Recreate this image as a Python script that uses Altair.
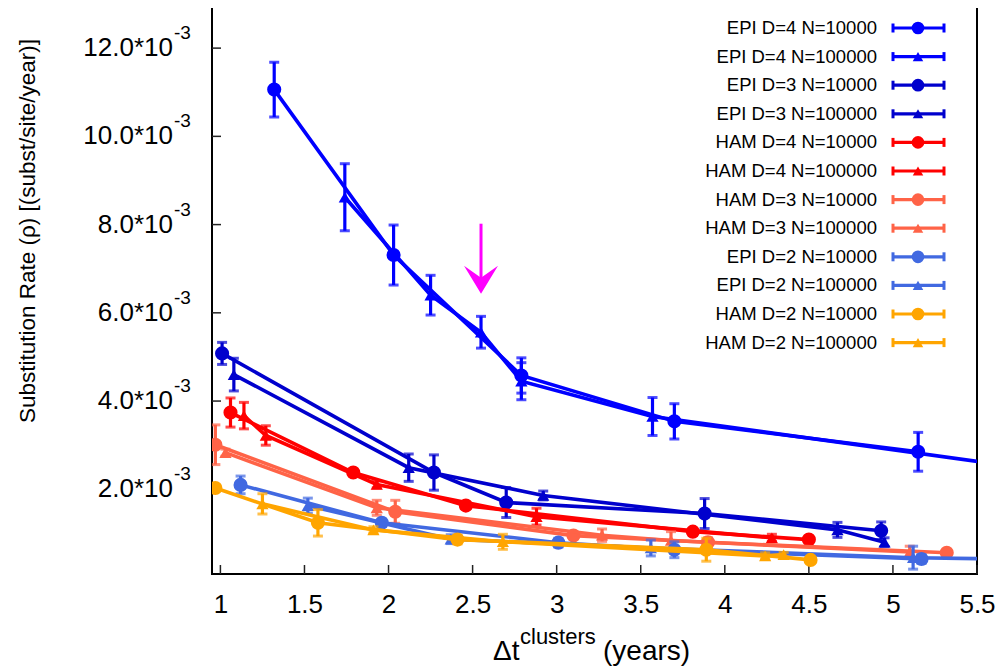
import altair as alt
import pandas as pd

# ---------------- data (rates in units of 1e-3 subst/site/year) ----------------
series_names = [
    "EPI D=4 N=10000", "EPI D=4 N=100000", "EPI D=3 N=10000", "EPI D=3 N=100000",
    "HAM D=4 N=10000", "HAM D=4 N=100000", "HAM D=3 N=10000", "HAM D=3 N=100000",
    "EPI D=2 N=10000", "EPI D=2 N=100000", "HAM D=2 N=10000", "HAM D=2 N=100000",
]
series_colors = [
    "#0000ff", "#0000ff", "#0000cd", "#0000cd",
    "#ff0000", "#ff0000", "#ff6347", "#ff6347",
    "#4169e1", "#4169e1", "#ffa500", "#ffa500",
]
series_shapes = ["circle", "triangle-up"] * 6

dt_values = [
    [1.32, 2.03, 2.79, 3.70, 5.15],
    [1.74, 2.25, 2.55, 2.79, 3.57, 6.00],
    [1.01, 2.27, 2.70, 3.88, 4.93],
    [1.08, 2.12, 2.92, 4.67, 4.95],
    [1.06, 1.79, 2.46, 3.81, 4.50],
    [1.14, 1.27, 1.93, 2.88, 4.28],
    [0.97, 2.04, 3.10, 3.90, 5.32],
    [1.03, 1.93, 3.27, 3.68, 5.10],
    [1.12, 1.96, 3.01, 3.70, 5.17],
    [1.52, 2.37, 3.56, 5.12, 6.00],
    [0.97, 1.58, 2.41, 3.89, 4.51],
    [1.25, 1.91, 2.68, 4.24, 4.35],
]
rate_values = [
    [11.06, 7.31, 4.58, 3.54, 2.85],
    [8.62, 6.40, 5.56, 4.45, 3.65, 2.37],
    [5.08, 2.38, 1.70, 1.45, 1.06],
    [4.60, 2.49, 1.86, 1.08, 0.80],
    [3.74, 2.38, 1.63, 1.04, 0.86],
    [3.67, 3.22, 2.11, 1.38, 0.90],
    [3.01, 1.49, 0.95, 0.80, 0.56],
    [2.83, 1.58, 0.96, 0.84, 0.58],
    [2.10, 1.24, 0.79, 0.63, 0.42],
    [1.63, 0.87, 0.67, 0.45, 0.40],
    [2.03, 1.24, 0.86, 0.63, 0.40],
    [1.67, 1.08, 0.81, 0.49, 0.52],
]
err_values = [
    [0.62, 0.68, 0.40, 0.40, 0.44],
    [0.76, 0.45, 0.36, 0.42, 0.43, 0.30],
    [0.25, 0.40, 0.34, 0.34, 0.20],
    [0.37, 0.31, 0.10, 0.17, 0.10],
    [0.33, 0.07, 0.07, 0.07, 0.07],
    [0.30, 0.22, 0.08, 0.19, 0.08],
    [0.45, 0.26, 0.05, 0.10, 0.05],
    [0.08, 0.17, 0.14, 0.20, 0.13],
    [0.20, 0.08, 0.10, 0.18, 0.10],
    [0.17, 0.10, 0.18, 0.26, 0.10],
    [0.05, 0.30, 0.10, 0.26, 0.05],
    [0.23, 0.07, 0.17, 0.07, 0.05],
]

x_tick_values = [1, 1.5, 2, 2.5, 3, 3.5, 4, 4.5, 5, 5.5]
y_tick_values = [2, 4, 6, 8, 10, 12]
y_tick_labels = ["2.0*10", "4.0*10", "6.0*10", "8.0*10", "10.0*10", "12.0*10"]
y_tick_exponent = "-3"

arrow_x = [2.55]
arrow_y_start = [8.02]
arrow_y_tip = [6.43]

# ---------------- layout ----------------
X_DOMAIN = [0.95, 5.5]
Y_DOMAIN = [0.08, 13.0]
W, H = 765, 570
FONT = "Liberation Sans"

xs = alt.Scale(domain=X_DOMAIN, nice=False, zero=False)
ys = alt.Scale(domain=Y_DOMAIN, nice=False, zero=False)
x_axis = alt.Axis(values=x_tick_values, format="~g", labelFontSize=26, labelFont=FONT,
                  labelColor="black", ticks=False, domain=False, grid=False,
                  labelPadding=17, labelFlush=False, labelOverlap=False, title=None)


def xenc(field):
    return alt.X(f"{field}:Q", scale=xs, axis=x_axis, title=None)


def yenc(field):
    return alt.Y(f"{field}:Q", scale=ys, axis=None, title=None)


def xd(px):
    return X_DOMAIN[0] + px / W * (X_DOMAIN[1] - X_DOMAIN[0])


def yd(py):
    return Y_DOMAIN[1] - py / H * (Y_DOMAIN[1] - Y_DOMAIN[0])


dummy = pd.DataFrame({"a": [0]})
layers = []

# inward ticks
ytdf = pd.DataFrame({"v": y_tick_values, "lab": y_tick_labels})
xtdf = pd.DataFrame({"v": x_tick_values})
layers.append(alt.Chart(ytdf).mark_rule(color="#222222", strokeWidth=1.5).encode(
    y=yenc("v"), x=alt.value(0), x2=alt.value(9)))
layers.append(alt.Chart(xtdf).mark_rule(color="#222222", strokeWidth=1.5).encode(
    x=xenc("v"), y=alt.value(H), y2=alt.value(H - 9)))

# series
for i, name in enumerate(series_names):
    c = series_colors[i]
    d = pd.DataFrame({"dt": dt_values[i], "rate": rate_values[i], "err": err_values[i]})
    d["lo"] = d["rate"] - d["err"]
    d["hi"] = d["rate"] + d["err"]
    caps = pd.DataFrame({"dt": list(d["dt"]) * 2, "cv": list(d["lo"]) + list(d["hi"])})
    layers.append(alt.Chart(d).mark_line(color=c, strokeWidth=3.6, clip=True).encode(
        x=xenc("dt"), y=yenc("rate")))
    layers.append(alt.Chart(d).mark_rule(color=c, strokeWidth=3.2, clip=True).encode(
        x=xenc("dt"), y=yenc("lo"), y2="hi"))
    layers.append(alt.Chart(caps).mark_tick(color=c, orient="horizontal", size=10,
                                            thickness=3, clip=True).encode(
        x=xenc("dt"), y=yenc("cv")))
    sz = 200 if series_shapes[i] == "circle" else 150
    layers.append(alt.Chart(d).mark_point(filled=True, opacity=1, color=c,
                                          shape=series_shapes[i], size=sz, clip=True).encode(
        x=xenc("dt"), y=yenc("rate")))

# arrow
adf = pd.DataFrame({"x": arrow_x, "y0": arrow_y_start, "y1": arrow_y_tip})
adf["ymid"] = adf["y1"] + (adf["y0"] - adf["y1"]) * 0.2
layers.append(alt.Chart(adf).mark_rule(color="#ff00ff", strokeWidth=3).encode(
    x=xenc("x"), y=yenc("y0"), y2="ymid"))
layers.append(alt.Chart(adf).mark_point(
    shape="M0,0L-1,-1.65L0,-0.95L1,-1.65Z", size=1156, filled=True, opacity=1,
    color="#ff00ff").encode(x=xenc("x"), y=yenc("y1")))

# legend (positions computed from row index)
rows = list(range(len(series_names)))
row_py = [24 + 28.6 * r for r in rows]
ldf = pd.DataFrame({
    "label": series_names,
    "color": series_colors,
    "shape": series_shapes,
    "ly": [yd(p) for p in row_py],
    "tx": [xd(665)] * len(rows),
    "lx0": [xd(681)] * len(rows),
    "lx1": [xd(732)] * len(rows),
    "lxm": [xd(706)] * len(rows),
})
ldf["lylo"] = [yd(p + 4.5) for p in row_py]
ldf["lyhi"] = [yd(p - 4.5) for p in row_py]
ldf["msize"] = [160 if s == "circle" else 110 for s in series_shapes]
lcaps = pd.concat([
    ldf.assign(cx=ldf["lx0"]), ldf.assign(cx=ldf["lx1"])
], ignore_index=True)
layers.append(alt.Chart(ldf).mark_text(align="right", baseline="middle", fontSize=18.5,
                                       font=FONT, color="black").encode(
    x=xenc("tx"), y=yenc("ly"), text="label:N"))
layers.append(alt.Chart(ldf).mark_rule(strokeWidth=3.2).encode(
    x=xenc("lx0"), x2="lx1", y=yenc("ly"), color=alt.Color("color:N", scale=None)))
layers.append(alt.Chart(lcaps).mark_rule(strokeWidth=3).encode(
    x=xenc("cx"), y=yenc("lylo"), y2="lyhi", color=alt.Color("color:N", scale=None)))
layers.append(alt.Chart(ldf).mark_point(filled=True, opacity=1).encode(
    x=xenc("lxm"), y=yenc("ly"), color=alt.Color("color:N", scale=None),
    shape=alt.Shape("shape:N", scale=None), size=alt.Size("msize:Q", scale=None)))

# y tick labels with superscript exponent
layers.append(alt.Chart(ytdf).mark_text(align="right", baseline="middle", fontSize=26,
                                        font=FONT, color="black").encode(
    x=alt.value(-39), y=yenc("v"), text="lab:N"))
layers.append(alt.Chart(ytdf).mark_text(align="left", baseline="middle", fontSize=19,
                                        font=FONT, color="black", dy=-15).encode(
    x=alt.value(-38), y=yenc("v"), text=alt.value(y_tick_exponent)))

# axis titles
layers.append(alt.Chart(dummy).mark_text(angle=270, fontSize=22.5, font=FONT, align="center",
                                         baseline="middle", color="black").encode(
    x=alt.value(-184), y=alt.value(227),
    text=alt.value("Substitution Rate (\u03c1) [(subst/site/year)]")))
layers.append(alt.Chart(dummy).mark_text(align="left", baseline="alphabetic", fontSize=28,
                                         font=FONT, color="black").encode(
    x=alt.value(281), y=alt.value(656), text=alt.value("\u0394t")))
layers.append(alt.Chart(dummy).mark_text(align="left", baseline="alphabetic", fontSize=22,
                                         font=FONT, color="black").encode(
    x=alt.value(308), y=alt.value(640), text=alt.value("clusters")))
layers.append(alt.Chart(dummy).mark_text(align="left", baseline="alphabetic", fontSize=28,
                                         font=FONT, color="black").encode(
    x=alt.value(391), y=alt.value(656), text=alt.value("(years)")))

chart = alt.layer(*layers).properties(
    width=W, height=H,
    autosize=alt.AutoSizeParams(type="none"),
    padding={"left": 204, "top": -4, "right": 20, "bottom": 98},
    background="white",
).configure_view(stroke="black", strokeWidth=2)

chart.save("out.html", embed_options={"renderer": "svg", "actions": False})
